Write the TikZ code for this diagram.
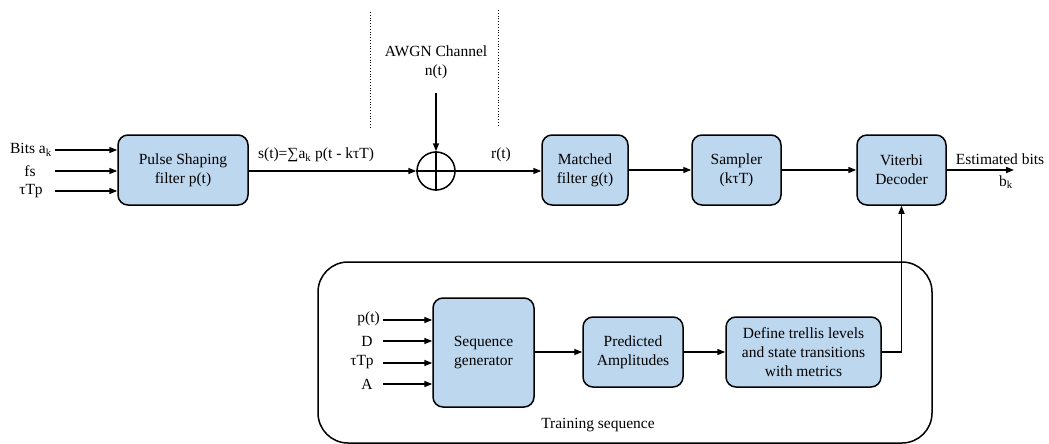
\documentclass[tikz,border=0pt]{standalone}
\usepackage{fontspec}
\setmainfont{Liberation Serif}
\usetikzlibrary{arrows.meta}
\begin{document}
\begin{tikzpicture}[x=1pt,y=-1pt,
  font=\fontsize{15.5}{19}\selectfont,
  block/.style={draw, line width=1.5pt, rounded corners=10pt, fill=boxblue,
    align=center, inner sep=0pt},
  arr/.style={line width=1.5pt, -{Triangle[length=8pt,width=6pt]}},
  lbl/.style={inner sep=1pt}]
\definecolor{boxblue}{HTML}{BDD7EE}
\useasboundingbox (0,0) rectangle (1049,444);

% transmitter chain
\node[block, minimum width=130pt, minimum height=70pt] (pulse) at (183,170) {Pulse Shaping\\filter p(t)};
\node[block, minimum width=86pt, minimum height=70pt] (mf) at (585,170) {Matched\\filter g(t)};
\node[block, minimum width=89pt, minimum height=70pt] (samp) at (736.5,170) {Sampler\\(kτT)};
\node[block, minimum width=89pt, minimum height=70pt] (vit) at (901.5,170) {Viterbi\\Decoder};

% channel adder
\node[draw, circle, line width=1.5pt, minimum size=38pt, inner sep=0pt] (sum) at (436,171) {};
\draw[line width=1.5pt] (sum.north) -- (sum.south) (sum.west) -- (sum.east);

% channel boundaries
\draw[dotted, line width=0.8pt] (370,12) -- (370,127);
\draw[dotted, line width=0.8pt] (498,10) -- (498,125);
\node[lbl, align=center] (awgn) at (436,62) {AWGN Channel\\n(t)};
\coordinate (nsrc) at (436,93);
\draw[arr] (nsrc) -- (sum.north);

% inputs of the pulse shaper
\coordinate (i1) at (55,150);
\coordinate (i2) at (55,171);
\coordinate (i3) at (55,191);
\node[lbl, anchor=east] (la) at (53,150) {Bits a$_{\mathrm{k}}$};
\node[lbl] (lfs) at (30,171) {fs};
\node[lbl] (ltp) at (31,191) {τTp};
\draw[arr] (i1) -- (i1 -| pulse.west);
\draw[arr] (i2) -- (i2 -| pulse.west);
\draw[arr] (i3) -- (i3 -| pulse.west);

% signal path
\draw[arr] (pulse.east |- sum) -- (sum.west);
\node[lbl] (st) at (316,155) {s(t)=∑a$_{\mathrm{k}}$ p(t - kτT)};
\draw[arr] (sum.east) -- (mf.west |- sum);
\node[lbl] (rt) at (501,155) {r(t)};
\draw[arr] (mf.east) -- (samp.west);
\draw[arr] (samp.east) -- (vit.west);
\coordinate (out) at (1014,170);
\draw[arr] (vit.east) -- (out);
\node[lbl] (est) at (1000,159) {Estimated bits};
\node[lbl] (bk) at (1006,182) {b$_{\mathrm{k}}$};

% training section
\draw[line width=1.5pt, rounded corners=30pt] (318,262) rectangle (932,443);
\node[lbl] (train) at (598,425) {Training sequence};
\node[block, minimum width=101pt, minimum height=109pt] (seq) at (483.5,352.5) {Sequence\\generator};
\node[block, minimum width=100pt, minimum height=70pt] (pred) at (633,352) {Predicted\\Amplitudes};
\node[block, minimum width=155pt, minimum height=70pt] (trel) at (803.5,352) {Define trellis levels\\and state transitions\\with metrics};

\coordinate (s1) at (383,320);
\coordinate (s2) at (383,341);
\coordinate (s3) at (383,363);
\coordinate (s4) at (383,384);
\node[lbl, anchor=east] (lp) at (381,319) {p(t)};
\node[lbl] (ld) at (367,341) {D};
\node[lbl] (lt2) at (362,362) {τTp};
\node[lbl] (lA) at (367,384) {A};
\foreach \c in {s1,s2,s3,s4} \draw[arr] (\c) -- (\c -| seq.west);

\draw[arr] (seq.east |- pred) -- (pred.west);
\draw[arr] (pred.east) -- (trel.west);
\draw[arr] (trel.east) -| (vit.south);
\end{tikzpicture}
\end{document}
